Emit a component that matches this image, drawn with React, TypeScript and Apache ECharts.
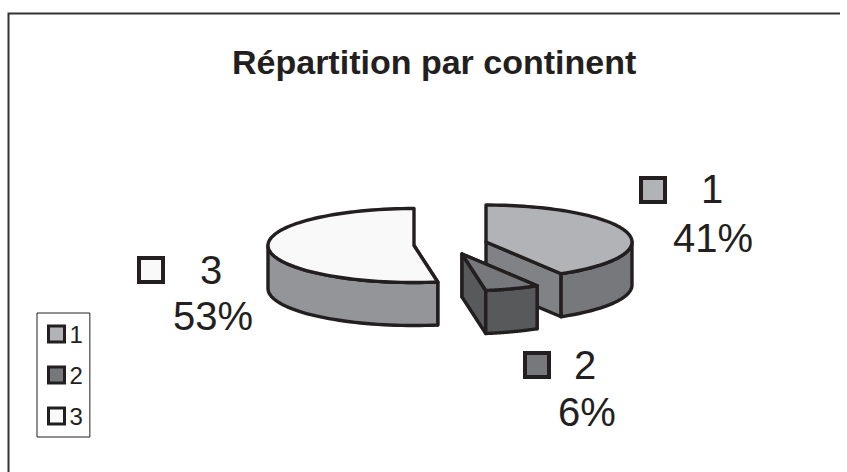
import React, { useEffect, useRef } from "react";
import * as echarts from "echarts";

const titleText = "Répartition par continent";
const categories = ["1", "2", "3"];
const shares = [41.4, 6.0, 52.6];
const topColors = ["#b1b3b6", "#77787b", "#f9f9f9"];
const rimColors = ["#77787b", "#58595b", "#939598"];
const cutColors = ["#808285", "#58595b", "#939598"];
const drawOrder = [2, 0, 1];

// Projection of the tilted pie
const RX = 146;
const RY = 37;
const DEPTH = 43;
const apexes = [[486, 242], [462, 254], [414, 245.5]];
const labelPlaces = [
  { box: [639, 176], num: [712, 189], pct: [713, 238] },
  { box: [523, 351], num: [585, 365], pct: [587, 412] },
  { box: [137, 256], num: [211, 270], pct: [213, 316] },
];

const STROKE = "#231f20";
const FONT = "'Liberation Sans', Arial, sans-serif";

function startAngle(idx: number) {
  const total = shares.reduce((a, b) => a + b, 0);
  let sum = 0;
  for (let i = 0; i < idx; i++) sum += shares[i];
  return (sum / total) * Math.PI * 2;
}

function ellipsePoint(c: number[], a: number) {
  return [c[0] + RX * Math.sin(a), c[1] - RY * Math.cos(a)];
}

function renderSlice(idx: number) {
  const c = apexes[idx];
  const a0 = startAngle(idx);
  const a1 = startAngle(idx + 1);
  const steps = 80;
  const arc: number[][] = [];
  for (let i = 0; i <= steps; i++) arc.push(ellipsePoint(c, a0 + ((a1 - a0) * i) / steps));
  const lineStyle = { stroke: STROKE, lineWidth: 3.4, lineJoin: "round" as const };
  const children: any[] = [];
  const poly = (points: number[][], fill: string) =>
    children.push({ type: "polygon", shape: { points }, style: { fill, ...lineStyle } });
  const down = (p: number[]) => [p[0], p[1] + DEPTH];

  // cut faces, visible only where they turn toward the viewer
  const pStart = arc[0];
  const pEnd = arc[arc.length - 1];
  if (Math.sin(a0) > 0) poly([c, pStart, down(pStart), down(c)], cutColors[idx]);
  if (Math.sin(a1) > 0) poly([c, pEnd, down(pEnd), down(c)], cutColors[idx]);

  // outer rim: the visible part of the arc is the front half of the ellipse
  const front = arc.filter((_, i) => Math.cos(a0 + ((a1 - a0) * i) / steps) <= 0.02);
  if (front.length > 1) poly([...front, ...front.map(down).reverse()], rimColors[idx]);

  // top face
  poly([c, ...arc], topColors[idx]);

  // data label
  const place = labelPlaces[idx];
  children.push({
    type: "rect",
    shape: { x: place.box[0] + 2, y: place.box[1] + 2, width: 24, height: 24 },
    style: { fill: topColors[idx], stroke: STROKE, lineWidth: 4 },
  });
  const text = (t: string, p: number[]) =>
    children.push({
      type: "text",
      style: { text: t, x: p[0], y: p[1], fill: STROKE, font: `40px ${FONT}`, align: "center", verticalAlign: "middle" },
    });
  text(categories[idx], place.num);
  text(`${Math.round(shares[idx])}%`, place.pct);
  return { type: "group", children };
}

export default function App() {
  const ref = useRef<HTMLDivElement>(null);
  useEffect(() => {
    const chart = echarts.init(ref.current!, undefined, { renderer: "svg" });
    const legendText = { fontFamily: FONT, fontSize: 24, color: STROKE };
    chart.setOption({
      animation: false,
      backgroundColor: "#ffffff",
      title: {
        text: titleText,
        left: 227,
        top: 40,
        textStyle: { fontFamily: FONT, fontWeight: "bold", fontSize: 34, color: STROKE },
      },
      legend: {
        orient: "vertical",
        left: 37,
        top: 313,
        padding: [9, 7, 9, 10],
        itemWidth: 16,
        itemHeight: 16,
        itemGap: 17,
        borderColor: STROKE,
        borderWidth: 1,
        selectedMode: false,
        textStyle: legendText,
        data: categories.map((name, i) => ({
          name,
          icon: "rect",
          itemStyle: { color: topColors[i], borderColor: STROKE, borderWidth: 3 },
        })),
      },
      graphic: [
        {
          type: "polyline",
          shape: { points: [[8.5, 472], [8.5, 13.5], [840, 13.5]] },
          style: { stroke: "#333333", lineWidth: 2, fill: "none" },
        },
      ],
      series: drawOrder.map((idx) => ({
        type: "custom",
        name: categories[idx],
        coordinateSystem: "none",
        itemStyle: { color: topColors[idx] },
        data: [shares[idx]],
        renderItem: () => renderSlice(idx),
      })),
    });
    return () => chart.dispose();
  }, []);
  return <div ref={ref} style={{ position: "fixed", left: 0, top: 0, width: 847, height: 472 }} />;
}
